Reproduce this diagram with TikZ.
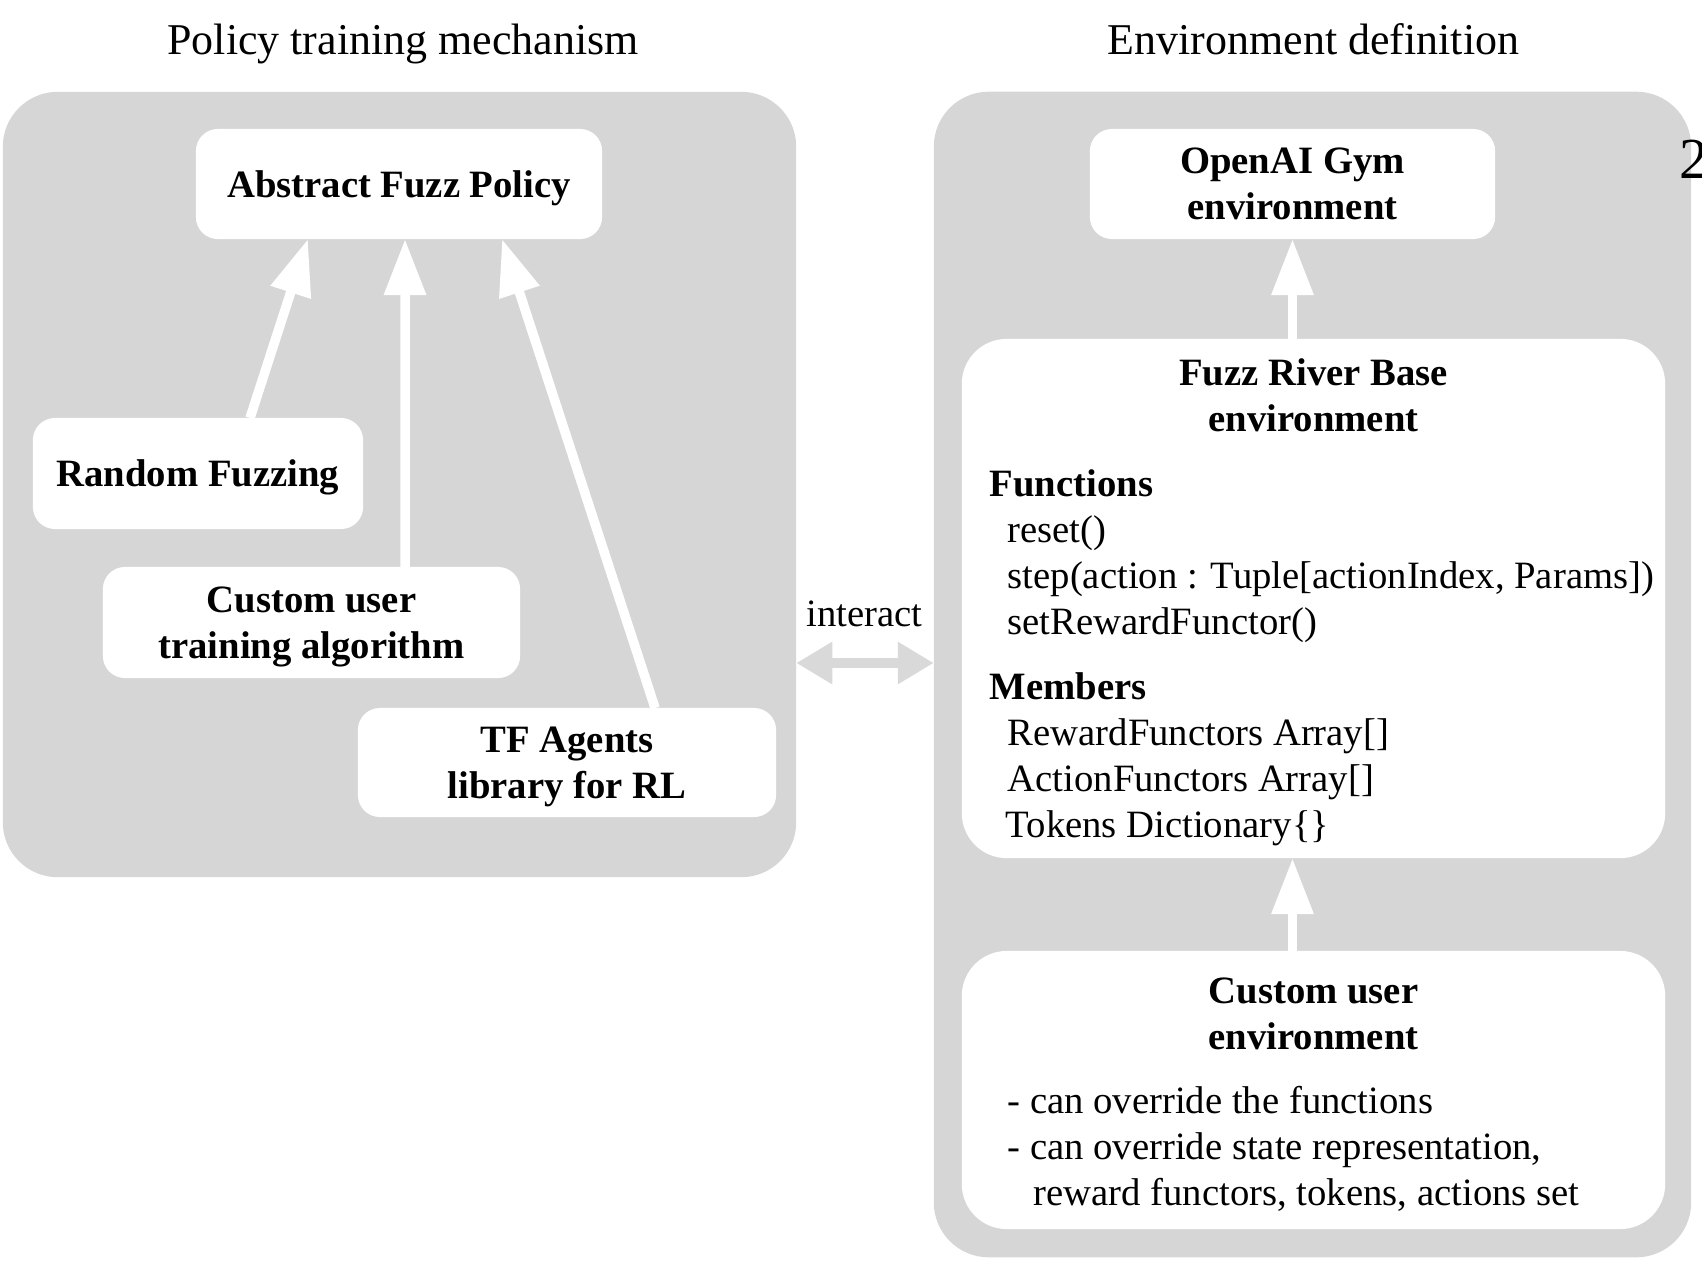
\documentclass[tikz,border=0pt]{standalone}
\usepackage{fontspec}
\setmainfont{Liberation Serif}
\usetikzlibrary{arrows.meta}
\definecolor{panelgray}{HTML}{D6D6D6}
\definecolor{linkgray}{HTML}{D9D9D9}
\newcommand\mybody{\fontsize{11pt}{13.1pt}\selectfont}
\newcommand\mybodybf{\fontsize{11pt}{13.1pt}\selectfont\bfseries}
\begin{document}
\begin{tikzpicture}[x=0.01cm,y=-0.01cm,
  panel/.style={fill=panelgray, rounded corners=5.5mm, inner sep=0, outer sep=0},
  box/.style={fill=white, rounded corners=2.2mm, inner sep=0, outer sep=0, align=center, font=\mybodybf, text depth=0pt},
  bigbox/.style={fill=white, rounded corners=4.5mm, inner sep=0, outer sep=0},
  inherit/.style={draw=white, line width=0.95mm, -{Triangle[width=4mm,length=5.6mm]}},
  link/.style={draw=linkgray, line width=1mm, {Triangle[width=4mm,length=3.6mm]}-{Triangle[width=4mm,length=3.6mm]}},
  ttl/.style={font=\fontsize{12.5pt}{15pt}\selectfont, anchor=base, inner sep=0},
  txt/.style={font=\mybody, anchor=base west, inner sep=0},
  txtbf/.style={font=\mybodybf, anchor=base west, inner sep=0},
  hdr/.style={font=\mybodybf, anchor=base, inner sep=0}
]
\useasboundingbox (0,0) rectangle (1702,1272);
\clip (0,0) rectangle (1702,1272);

% titles
\node[ttl] (t1) at (403,54) {Policy training mechanism};
\node[ttl] (t2) at (1313.5,54) {Environment definition};

% panels
\node[panel, minimum width=79.3mm, minimum height=78.5mm] (lp) at (399.5,484.5) {};
\node[panel, minimum width=75.7mm, minimum height=116.5mm] (rp) at (1312.5,674.5) {};

\node[anchor=base west, inner sep=0, font=\fontsize{16.5pt}{19pt}\selectfont] (pg) at (1679,178) {2};

% left boxes
\node[box, minimum width=40.6mm, minimum height=11mm] (afp) at (399,184) {Abstract Fuzz Policy};
\node[box, minimum width=33mm, minimum height=11.1mm] (rf) at (198,473.5) {Random Fuzzing};
\node[box, minimum width=41.7mm, minimum height=11.1mm] (cu) at (311.5,622.5) {Custom user\\training algorithm};
\node[box, minimum width=41.8mm, minimum height=10.9mm] (tf) at (567,762.5) {TF Agents\\library for RL};

\draw[inherit] ([xshift=5.2mm]rf.north) -- ([xshift=-9.1mm]afp.south);
\draw[inherit] ([xshift=9.35mm]cu.north) -- ([xshift=0.6mm]afp.south);
\draw[inherit] ([xshift=8.8mm]tf.north) -- ([xshift=10.3mm]afp.south);

% right boxes
\node[box, minimum width=40.5mm, minimum height=11mm] (gym) at (1292.5,184) {OpenAI Gym\\environment};
\node[bigbox, minimum width=70.3mm, minimum height=51.9mm] (frb) at (1313.5,598.5) {};
\node[bigbox, minimum width=70.3mm, minimum height=27.8mm] (cue) at (1313.5,1090) {};

\node[hdr] (frbt1) at (1313.5,385) {Fuzz River Base};
\node[hdr] (frbt2) at (1313.5,431) {environment};
\node[txtbf] (fn) at (989,496) {Functions};
\node[txt] (fn1) at (1007,542) {reset()};
\node[txt] (fn2) at (1007,588) {step(action : Tuple[actionIndex, Params])};
\node[txt] (fn3) at (1007,634) {setRewardFunctor()};
\node[txtbf] (mb) at (989,699) {Members};
\node[txt] (mb1) at (1007,745) {RewardFunctors Array[]};
\node[txt] (mb2) at (1007,791) {ActionFunctors Array[]};
\node[txt] (mb3) at (1005,837) {Tokens Dictionary\{\}};

\node[hdr] (cuet1) at (1313.5,1003) {Custom user};
\node[hdr] (cuet2) at (1313.5,1049) {environment};
\node[txt] (cu1) at (1007,1113) {- can override the functions};
\node[txt] (cu2) at (1007,1159) {- can override state representation,};
\node[txt] (cu3) at (1033,1205) {reward functors, tokens, actions set};

\draw[inherit] (frb.north -| gym.south) -- (gym.south);
\draw[inherit] (cue.north -| gym.south) -- (frb.south -| gym.south);

% interact
\coordinate (ia) at (864.5,663);
\draw[link] (lp.east |- ia) -- (rp.west |- ia);
\node[font=\mybody, anchor=base, inner sep=0] (il) at (864.5,626) {interact};
\end{tikzpicture}
\end{document}
